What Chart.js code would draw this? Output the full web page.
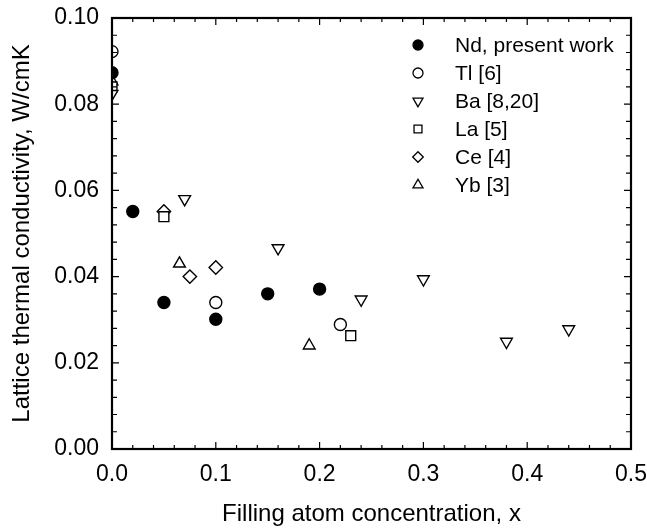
<!DOCTYPE html>
<html><head><meta charset="utf-8">
<script src="https://cdn.jsdelivr.net/npm/chart.js@4"></script>
<style>html,body{margin:0;padding:0;background:#fff}#wrap{width:647px;height:532px;position:relative}</style>
</head><body>
<div id="wrap"><canvas id="c"></canvas></div>
<script>
const ndX = [0, 0.02, 0.05, 0.10, 0.15, 0.20];
const ndY = [0.0873, 0.0551, 0.0340, 0.0301, 0.0360, 0.0371];
const tlX = [0, 0.10, 0.22];
const tlY = [0.0922, 0.0340, 0.0289];
const baX = [0, 0.07, 0.16, 0.24, 0.30, 0.38, 0.44];
const baY = [0.0824, 0.0580, 0.0466, 0.0347, 0.0394, 0.0249, 0.0278];
const laX = [0, 0.05, 0.23];
const laY = [0.0840, 0.0539, 0.0263];
const ceX = [0.05, 0.075, 0.10];
const ceY = [0.0551, 0.0400, 0.0421];
const ybX = [0, 0.065, 0.19];
const ybY = [0.0853, 0.0430, 0.0240];
const xTicks = [0, 0.1, 0.2, 0.3, 0.4, 0.5];
const yTicks = [0, 0.02, 0.04, 0.06, 0.08, 0.10];

const FONT = '"Liberation Sans", Arial, Helvetica, sans-serif';
const pts = (xs, ys) => xs.map((x, i) => ({x, y: ys[i]}));

function mk(label, xs, ys, style, fill, radius, rot, legR) {
  return {label, data: pts(xs, ys), pointStyle: style, pointRadius: radius, pointHoverRadius: radius,
    pointRotation: rot || 0, pointBackgroundColor: fill, pointBorderColor: '#000', pointBorderWidth: 1.4,
    showLine: false, legR};
}
const datasets = [
  mk('Nd, present work', ndX, ndY, 'circle', '#000', 6, 0, 5),
  mk('Tl [6]', tlX, tlY, 'circle', '#fff', 6, 0, 5),
  mk('Ba [8,20]', baX, baY, 'triangle', '#fff', 6.8, 180, 5.8),
  mk('La [5]', laX, laY, 'rect', '#fff', 7, 0, 5.6),
  mk('Ce [4]', ceX, ceY, 'rectRot', '#fff', 6.7, 0, 5.3),
  mk('Yb [3]', ybX, ybY, 'triangle', '#fff', 6.8, 0, 5.8)
];

function shape(ctx, style, r, rot, x, y) {
  ctx.beginPath();
  if (style === 'circle') { ctx.arc(x, y, r, 0, Math.PI * 2); }
  else if (style === 'triangle') {
    let a = rot * Math.PI / 180;
    for (let k = 0; k < 3; k++) {
      const px = x + Math.sin(a) * r, py = y - Math.cos(a) * r;
      k ? ctx.lineTo(px, py) : ctx.moveTo(px, py);
      a += 2 * Math.PI / 3;
    }
    ctx.closePath();
  } else if (style === 'rect') { const s = r / Math.SQRT2; ctx.rect(x - s, y - s, 2 * s, 2 * s); }
  else if (style === 'rectRot') { ctx.moveTo(x, y - r); ctx.lineTo(x + r, y); ctx.lineTo(x, y + r); ctx.lineTo(x - r, y); ctx.closePath(); }
  ctx.fill(); ctx.stroke();
}

const framePlugin = {
  id: 'frame',
  afterDraw(chart) {
    const {ctx, chartArea: a, scales: {x, y}} = chart;
    ctx.save();
    ctx.strokeStyle = '#000';
    ctx.lineWidth = 1.2;
    ctx.beginPath();
    for (let i = 0; i <= 25; i++) {
      const px = x.getPixelForValue(i * 0.02);
      const L = i % 5 === 0 ? 7 : 4;
      ctx.moveTo(px, a.bottom); ctx.lineTo(px, a.bottom - L);
      ctx.moveTo(px, a.top); ctx.lineTo(px, a.top + L);
    }
    for (let i = 0; i <= 25; i++) {
      const py = y.getPixelForValue(i * 0.004);
      const L = i % 5 === 0 ? 7 : 5;
      ctx.moveTo(a.left, py); ctx.lineTo(a.left + L, py);
      ctx.moveTo(a.right, py); ctx.lineTo(a.right - L, py);
    }
    ctx.stroke();
    ctx.lineWidth = 2.2;
    ctx.strokeRect(a.left, a.top, a.right - a.left, a.bottom - a.top);
    // legend
    const lx = 418, tx = 455, ly = 45, dy = 28;
    chart.data.datasets.forEach((ds, i) => {
      const yy = ly + i * dy;
      ctx.lineWidth = 1.3;
      ctx.strokeStyle = '#000';
      ctx.fillStyle = ds.pointBackgroundColor;
      shape(ctx, ds.pointStyle, ds.legR, ds.pointRotation, lx, yy);
      ctx.fillStyle = '#000';
      ctx.font = '21px ' + FONT;
      ctx.textBaseline = 'middle';
      ctx.textAlign = 'left';
      ctx.fillText(ds.label, tx, yy + 1);
    });
    ctx.restore();
  }
};

const zeroPad = s => { s.paddingTop = 0; s.paddingBottom = 0; s.paddingLeft = 0; s.paddingRight = 0; };

new Chart(document.getElementById('c'), {
  type: 'scatter',
  data: {datasets},
  options: {
    responsive: true, maintainAspectRatio: false, animation: false,
    layout: {padding: {top: 18, right: 16, left: 0, bottom: 0}},
    plugins: {legend: {display: false}, tooltip: {enabled: false}},
    scales: {
      x: {
        type: 'linear', min: 0, max: 0.5,
        afterFit: s => { s.height = 83; zeroPad(s); },
        afterBuildTicks: s => { s.ticks = xTicks.map(v => ({value: v})); },
        grid: {display: false, drawTicks: false}, border: {display: false},
        ticks: {padding: 12, color: '#000', font: {size: 23, family: FONT}, callback: v => v.toFixed(1)},
        title: {display: true, text: 'Filling atom concentration, x', color: '#000', font: {size: 24, family: FONT}, padding: {top: 4, bottom: 3}}
      },
      y: {
        type: 'linear', min: 0, max: 0.1,
        afterFit: s => { s.width = 112; zeroPad(s); },
        afterBuildTicks: s => { s.ticks = yTicks.map(v => ({value: v})); },
        grid: {display: false, drawTicks: false}, border: {display: false},
        ticks: {padding: 13, color: '#000', font: {size: 23, family: FONT}, callback: v => v.toFixed(2)},
        title: {display: true, text: 'Lattice thermal conductivity, W/cmK', color: '#000', font: {size: 24, family: FONT}, padding: {top: 8, bottom: 4}}
      }
    }
  },
  plugins: [framePlugin]
});
</script>
</body></html>
